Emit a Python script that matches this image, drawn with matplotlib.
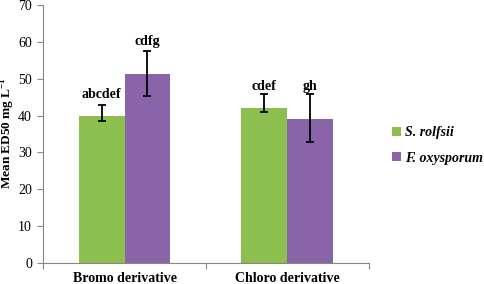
import numpy as np
import matplotlib.pyplot as plt

plt.rcParams['font.family'] = ['Liberation Serif', 'DejaVu Serif']
plt.rcParams['mathtext.fontset'] = 'custom'
plt.rcParams['mathtext.rm'] = 'Liberation Serif'
plt.rcParams['mathtext.bf'] = 'Liberation Serif:bold'

categories = ['Bromo derivative', 'Chloro derivative']
series_names = ['S. rolfsii', 'F. oxysporum']
rolfsii = [39.8, 42.0]
rolfsii_err_low = [1.2, 1.0]
rolfsii_err_high = [3.0, 4.0]
oxysporum = [51.4, 39.0]
oxysporum_err_low = [6.1, 6.1]
oxysporum_err_high = [6.1, 6.8]
rolfsii_letters = ['abcdef', 'cdef']
oxysporum_letters = ['cdfg', 'gh']
label_y = [[45.6, 48.0], [60.0, 48.0]]

green = '#8DBE50'
purple = '#8A64A8'
axis_grey = '#868686'

fig = plt.figure(figsize=(4.84, 2.84), dpi=100)
ax = fig.add_axes([0.089, 0.074, 0.673, 0.908])

x = np.arange(len(categories))
w = 0.282
ax.bar(x - w / 2, rolfsii, w, color=green, label=series_names[0])
ax.bar(x + w / 2, oxysporum, w, color=purple, label=series_names[1])
ax.errorbar(x - w / 2, rolfsii, yerr=[rolfsii_err_low, rolfsii_err_high],
            fmt='none', ecolor='black', elinewidth=1.3, capsize=2.6, capthick=1.3)
ax.errorbar(x + w / 2, oxysporum, yerr=[oxysporum_err_low, oxysporum_err_high],
            fmt='none', ecolor='black', elinewidth=1.3, capsize=2.6, capthick=1.3)

for i in range(len(categories)):
    ax.text(x[i] - w / 2, label_y[0][i], rolfsii_letters[i], ha='center', va='center',
            fontsize=10, fontweight='bold')
    ax.text(x[i] + w / 2, label_y[1][i], oxysporum_letters[i], ha='center', va='center',
            fontsize=10, fontweight='bold')

ax.set_xlim(-0.5, 1.5)
ax.set_ylim(0, 70)
ax.set_yticks(range(0, 71, 10))
ax.tick_params(axis='y', labelsize=10, length=4, color=axis_grey, pad=4)

ax.set_xticks([-0.5, 0.5, 1.5])
ax.set_xticklabels([])
ax.tick_params(axis='x', length=4, color=axis_grey)
for i, c in enumerate(categories):
    tx = (ax.transData + fig.transFigure.inverted()).transform((x[i], 0))[0]
    fig.text(tx, 2.5 / 284, c, ha='center', va='baseline', fontsize=10, fontweight='bold')

for s in ['top', 'right']:
    ax.spines[s].set_visible(False)
for s in ['left', 'bottom']:
    ax.spines[s].set_color(axis_grey)

fig.text(8 / 484, 0.53, 'Mean ED50 mg L$^{\\mathbf{-1}}$', rotation=90, ha='center',
         va='center', fontsize=9.5, fontweight='bold')

leg = fig.legend(loc='upper left', bbox_to_anchor=(0.785, 0.60), frameon=False,
                 handlelength=0.6, handleheight=0.6, handletextpad=0.3, labelspacing=0.9,
                 prop={'size': 10, 'weight': 'bold', 'style': 'italic'})

fig.savefig('out.png', dpi=100)
